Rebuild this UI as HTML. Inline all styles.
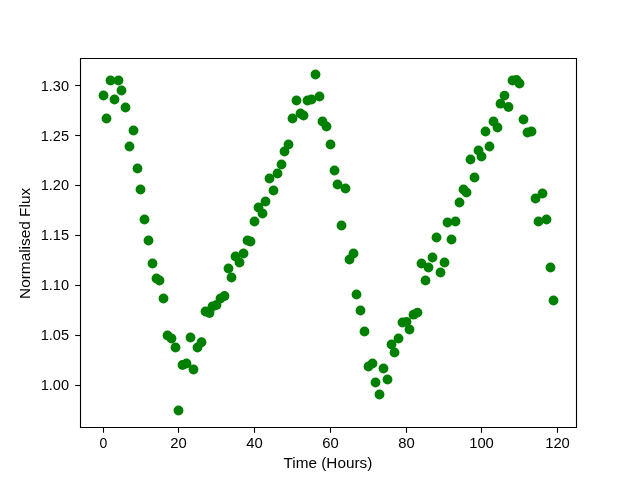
<!DOCTYPE html>
<html><head><meta charset="utf-8"><style>
html,body{margin:0;padding:0;background:#fff;width:640px;height:480px;overflow:hidden}
svg{display:block;will-change:transform}
</style></head><body>
<svg width="640" height="480" viewBox="0 0 640 480">
<rect width="640" height="480" fill="#fff"/>
<g fill="#008000"><circle cx="103.5" cy="95.5" r="4.9"/><circle cx="106.5" cy="118.5" r="4.9"/><circle cx="110.5" cy="80.5" r="4.9"/><circle cx="114.5" cy="99.5" r="4.9"/><circle cx="118.5" cy="80.5" r="4.9"/><circle cx="121.5" cy="90.5" r="4.9"/><circle cx="125.5" cy="107.5" r="4.9"/><circle cx="129.5" cy="146.5" r="4.9"/><circle cx="133.5" cy="130.5" r="4.9"/><circle cx="137.5" cy="168.5" r="4.9"/><circle cx="140.5" cy="189.5" r="4.9"/><circle cx="144.5" cy="219.5" r="4.9"/><circle cx="148.5" cy="240.5" r="4.9"/><circle cx="152.5" cy="263.5" r="4.9"/><circle cx="156.5" cy="278.5" r="4.9"/><circle cx="159.5" cy="280.5" r="4.9"/><circle cx="163.5" cy="298.5" r="4.9"/><circle cx="167.5" cy="335.5" r="4.9"/><circle cx="171.5" cy="338.5" r="4.9"/><circle cx="175.5" cy="347.5" r="4.9"/><circle cx="178.5" cy="410.5" r="4.9"/><circle cx="182.5" cy="365" r="4.9"/><circle cx="186.5" cy="363.5" r="4.9"/><circle cx="190.5" cy="337.5" r="4.9"/><circle cx="193.5" cy="369.5" r="4.9"/><circle cx="197.5" cy="347.5" r="4.9"/><circle cx="201.5" cy="342.25" r="4.9"/><circle cx="205.5" cy="311.5" r="4.9"/><circle cx="209.5" cy="313" r="4.9"/><circle cx="212.5" cy="306.5" r="4.9"/><circle cx="216.5" cy="305" r="4.9"/><circle cx="220.5" cy="298.5" r="4.9"/><circle cx="224.5" cy="296" r="4.9"/><circle cx="228.5" cy="268.5" r="4.9"/><circle cx="231.5" cy="277.5" r="4.9"/><circle cx="235.5" cy="256.5" r="4.9"/><circle cx="239.5" cy="262.5" r="4.9"/><circle cx="243.5" cy="253.5" r="4.9"/><circle cx="247.5" cy="240.5" r="4.9"/><circle cx="250.5" cy="241.5" r="4.9"/><circle cx="254.5" cy="221.5" r="4.9"/><circle cx="258.5" cy="207.5" r="4.9"/><circle cx="262.5" cy="213.5" r="4.9"/><circle cx="265.5" cy="201.5" r="4.9"/><circle cx="269.5" cy="178.5" r="4.9"/><circle cx="273.5" cy="190.5" r="4.9"/><circle cx="277.5" cy="173.5" r="4.9"/><circle cx="281.5" cy="164.5" r="4.9"/><circle cx="284.5" cy="151.5" r="4.9"/><circle cx="288.5" cy="144.5" r="4.9"/><circle cx="292.5" cy="118.5" r="4.9"/><circle cx="296.5" cy="100.5" r="4.9"/><circle cx="300.5" cy="113.5" r="4.9"/><circle cx="303.5" cy="115.5" r="4.9"/><circle cx="307.5" cy="100.5" r="4.9"/><circle cx="311.5" cy="99.5" r="4.9"/><circle cx="315.5" cy="74.5" r="4.9"/><circle cx="319.5" cy="96.5" r="4.9"/><circle cx="322.5" cy="121.5" r="4.9"/><circle cx="326.5" cy="126.5" r="4.9"/><circle cx="330.5" cy="144.5" r="4.9"/><circle cx="334.5" cy="170.5" r="4.9"/><circle cx="337.5" cy="184.5" r="4.9"/><circle cx="341.5" cy="225.5" r="4.9"/><circle cx="345.5" cy="188.5" r="4.9"/><circle cx="349.5" cy="259.5" r="4.9"/><circle cx="353.5" cy="253.5" r="4.9"/><circle cx="356.5" cy="294.5" r="4.9"/><circle cx="360.5" cy="310.5" r="4.9"/><circle cx="364.5" cy="331.5" r="4.9"/><circle cx="368.5" cy="366.5" r="4.9"/><circle cx="372.5" cy="363.5" r="4.9"/><circle cx="375.5" cy="382.5" r="4.9"/><circle cx="379.5" cy="394.5" r="4.9"/><circle cx="383.5" cy="368.5" r="4.9"/><circle cx="387.5" cy="379.5" r="4.9"/><circle cx="391.5" cy="344.5" r="4.9"/><circle cx="394.5" cy="352.5" r="4.9"/><circle cx="398.5" cy="338.5" r="4.9"/><circle cx="402.5" cy="322.5" r="4.9"/><circle cx="406.5" cy="321.8" r="4.9"/><circle cx="409.5" cy="329.5" r="4.9"/><circle cx="413.5" cy="314.7" r="4.9"/><circle cx="417.5" cy="312.6" r="4.9"/><circle cx="421.5" cy="263.5" r="4.9"/><circle cx="425.5" cy="280.5" r="4.9"/><circle cx="428.5" cy="267.5" r="4.9"/><circle cx="432.5" cy="257.5" r="4.9"/><circle cx="436.5" cy="237.5" r="4.9"/><circle cx="440.5" cy="272.5" r="4.9"/><circle cx="444.5" cy="262.5" r="4.9"/><circle cx="447.5" cy="222.5" r="4.9"/><circle cx="451.5" cy="239.5" r="4.9"/><circle cx="455.5" cy="221.5" r="4.9"/><circle cx="459.5" cy="202.5" r="4.9"/><circle cx="463.5" cy="189.5" r="4.9"/><circle cx="466.5" cy="192.5" r="4.9"/><circle cx="470.5" cy="159.5" r="4.9"/><circle cx="474.5" cy="177.5" r="4.9"/><circle cx="478.5" cy="150.5" r="4.9"/><circle cx="481.5" cy="156.5" r="4.9"/><circle cx="485.5" cy="131.5" r="4.9"/><circle cx="489.5" cy="146.5" r="4.9"/><circle cx="493.5" cy="121.5" r="4.9"/><circle cx="497.5" cy="127.5" r="4.9"/><circle cx="500.5" cy="103.7" r="4.9"/><circle cx="504.5" cy="95.6" r="4.9"/><circle cx="508.5" cy="107" r="4.9"/><circle cx="512.5" cy="80.5" r="4.9"/><circle cx="516.5" cy="80" r="4.9"/><circle cx="519.5" cy="83.5" r="4.9"/><circle cx="523.5" cy="119.5" r="4.9"/><circle cx="527.5" cy="132.5" r="4.9"/><circle cx="531.5" cy="131.5" r="4.9"/><circle cx="535.5" cy="198.5" r="4.9"/><circle cx="538.5" cy="221.5" r="4.9"/><circle cx="542.5" cy="193.5" r="4.9"/><circle cx="546.5" cy="219.5" r="4.9"/><circle cx="550.5" cy="267.5" r="4.9"/><circle cx="553.5" cy="300.5" r="4.9"/></g>
<g stroke="#000" stroke-width="1.1" fill="none" stroke-linecap="butt"><path d="M80.5 427.5 V58.5 H576.5 V427.5 Z" stroke-linecap="square" stroke-linejoin="miter"/><path d="M103.5 428 V432.8"/><path d="M178.5 428 V432.8"/><path d="M254.5 428 V432.8"/><path d="M330.5 428 V432.8"/><path d="M406.5 428 V432.8"/><path d="M481.5 428 V432.8"/><path d="M557.5 428 V432.8"/><path d="M75.2 85.5 H80"/><path d="M75.2 135.5 H80"/><path d="M75.2 185.5 H80"/><path d="M75.2 235.5 H80"/><path d="M75.2 285.5 H80"/><path d="M75.2 335.5 H80"/><path d="M75.2 385.5 H80"/></g><g font-family="&quot;Liberation Sans&quot;, sans-serif" font-size="14" fill="#000"><text transform="translate(103.5 448.3) scale(1.0 1)" text-anchor="middle">0</text><text transform="translate(178.5 448.3) scale(1.06 1)" text-anchor="middle">20</text><text transform="translate(254.5 448.3) scale(1.06 1)" text-anchor="middle">40</text><text transform="translate(330.5 448.3) scale(1.06 1)" text-anchor="middle">60</text><text transform="translate(406.5 448.3) scale(1.06 1)" text-anchor="middle">80</text><text transform="translate(481.5 448.3) scale(1.06 1)" text-anchor="middle">100</text><text transform="translate(557.5 448.3) scale(1.06 1)" text-anchor="middle">120</text><text transform="translate(69 91) scale(1.04 1)" text-anchor="end">1.30</text><text transform="translate(69 141) scale(1.04 1)" text-anchor="end">1.25</text><text transform="translate(69 190) scale(1.04 1)" text-anchor="end">1.20</text><text transform="translate(69 240) scale(1.04 1)" text-anchor="end">1.15</text><text transform="translate(69 290) scale(1.04 1)" text-anchor="end">1.10</text><text transform="translate(69 340) scale(1.04 1)" text-anchor="end">1.05</text><text transform="translate(69 390) scale(1.04 1)" text-anchor="end">1.00</text><text transform="translate(327.9 467.8) scale(1.094 1)" text-anchor="middle">Time (Hours)</text><text transform="translate(30.1 243.4) rotate(-90) scale(1.10 1)" text-anchor="middle">Normalised Flux</text></g>
</svg>
</body></html>
